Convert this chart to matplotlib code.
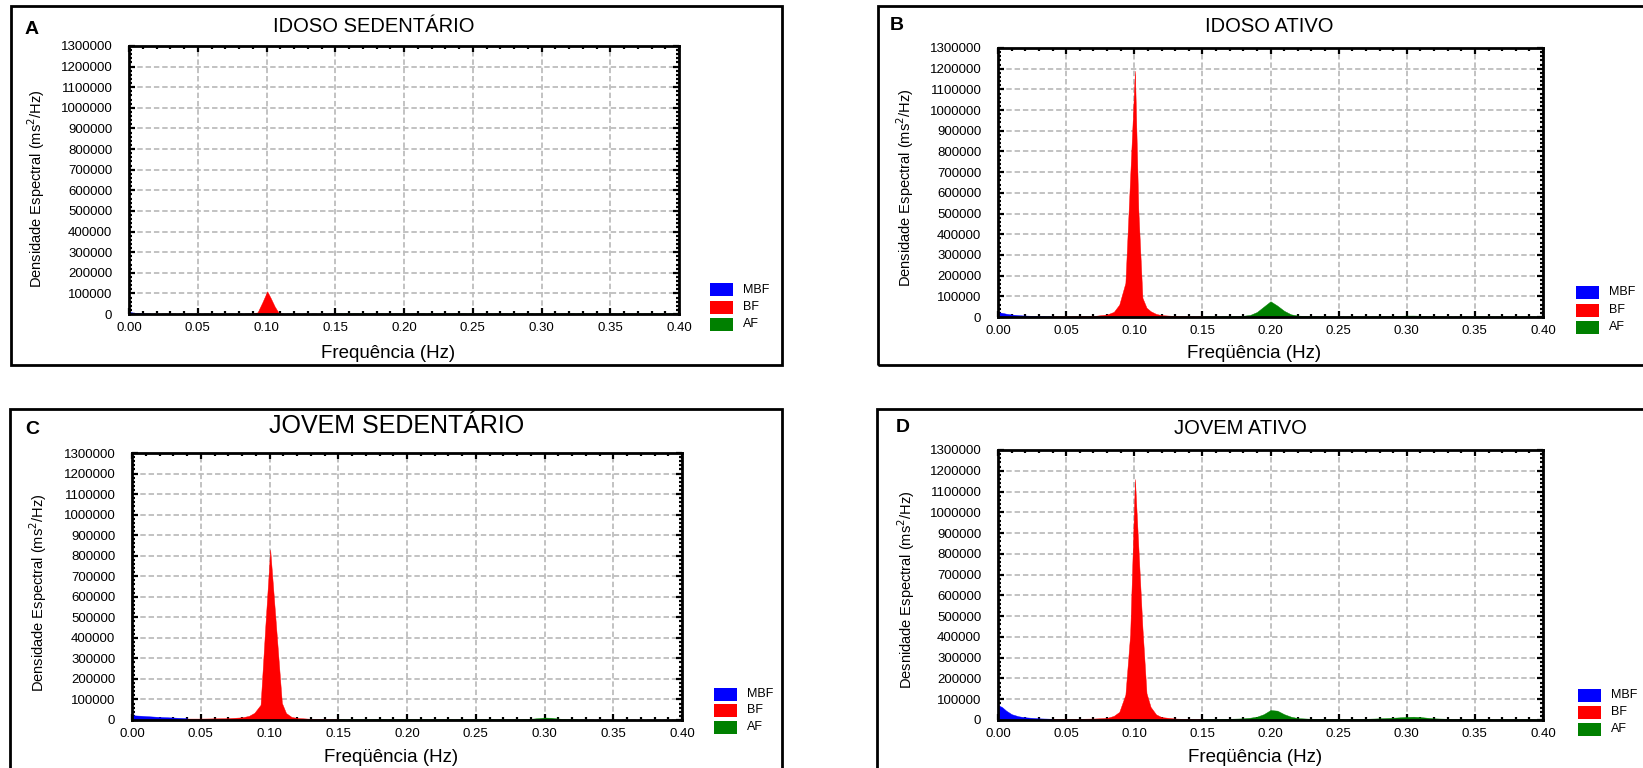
import matplotlib
matplotlib.use('Agg')
import matplotlib.pyplot as plt
from matplotlib.patches import Rectangle
from matplotlib.ticker import MultipleLocator

plt.rcParams['font.family'] = ['Liberation Sans', 'DejaVu Sans']

W, H = 1643, 768

# ---------------- data ----------------
freq_mbf = [0.0, 0.003, 0.006, 0.01, 0.015, 0.02, 0.03, 0.04]
freq_bf = [0.04, 0.05, 0.06, 0.07, 0.08, 0.085, 0.089, 0.0935, 0.097, 0.1005,
           0.103, 0.106, 0.109, 0.112, 0.116, 0.12, 0.13, 0.14, 0.15]
freq_af = [0.15, 0.16, 0.17, 0.18, 0.185, 0.19, 0.195, 0.2, 0.205, 0.21, 0.215,
           0.22, 0.23, 0.24, 0.25, 0.26, 0.27, 0.28, 0.29, 0.295, 0.3, 0.305,
           0.31, 0.315, 0.32, 0.33, 0.34, 0.35, 0.36, 0.37, 0.38, 0.39, 0.40]

# A - IDOSO SEDENTARIO
a_mbf = [10000, 7000, 5000, 3000, 2000, 1500, 1000, 1000]
a_bf = [1000, 1000, 1000, 1000, 1000, 1500, 2000, 8000, 57000, 110000,
        78000, 36000, 4000, 1500, 1000, 1000, 1000, 1000, 1000]
a_af = [1000, 1000, 1000, 1000, 1000, 1000, 1000, 1000, 1000, 1000, 1000,
        1000, 1000, 1000, 1000, 1000, 1000, 1000, 1000, 1000, 1000, 1000,
        1000, 1000, 1000, 1000, 1000, 1000, 1000, 1000, 1000, 1000, 1000]

# B - IDOSO ATIVO
b_mbf = [24000, 20000, 16000, 12000, 9000, 7000, 5000, 3000]
b_bf = [3000, 3000, 4000, 5000, 12000, 25000, 60000, 165000, 677000, 1190000,
        518000, 93000, 45000, 28000, 15000, 9000, 5000, 3000, 3000]
b_af = [3000, 3000, 4000, 6000, 10000, 24000, 50000, 76000, 55000, 30000, 13000,
        7000, 4000, 3000, 3000, 3000, 3000, 4000, 5000, 6000, 7000, 7000,
        6000, 5000, 4000, 3000, 3000, 3000, 3000, 3000, 3000, 3000, 3000]

# C - JOVEM SEDENTARIO
c_mbf = [24000, 22000, 21000, 19000, 17000, 15000, 12000, 9000]
c_bf = [7000, 7000, 8000, 9000, 13000, 20000, 35000, 74000, 462000, 830000,
        611000, 347000, 83000, 34000, 15000, 10000, 6000, 5000, 4000]
c_af = [4000, 4000, 4000, 4000, 4000, 4000, 5000, 5000, 5000, 4000, 4000,
        4000, 4000, 4000, 4000, 4000, 4000, 4000, 6000, 9000, 12000, 11000,
        7000, 5000, 4000, 2000, 1000, 1000, 1000, 1000, 1000, 1000, 1000]

# D - JOVEM ATIVO
d_mbf = [72000, 62000, 45000, 28000, 18000, 13000, 8000, 6000]
d_bf = [6000, 6000, 6000, 7000, 10000, 20000, 39000, 122000, 414000, 1160000,
        834000, 444000, 129000, 63000, 27000, 14000, 7000, 5000, 5000]
d_af = [5000, 5000, 6000, 8000, 11000, 16000, 28000, 48000, 45000, 28000, 16000,
        9000, 6000, 5000, 5000, 5000, 6000, 8000, 11000, 13000, 15000, 16000,
        14000, 11000, 8000, 6000, 5000, 5000, 4000, 4000, 4000, 4000, 4000]

band_labels = ['MBF', 'BF', 'AF']
band_colors = ['#0000ff', '#ff0000', '#008000']

x_ticks = [0.00, 0.05, 0.10, 0.15, 0.20, 0.25, 0.30, 0.35, 0.40]
x_ticklabels = ['0.00', '0.05', '0.10', '0.15', '0.20', '0.25', '0.30', '0.35', '0.40']
y_ticks = [0, 100000, 200000, 300000, 400000, 500000, 600000, 700000, 800000,
           900000, 1000000, 1100000, 1200000, 1300000]
y_ticklabels = ['0', '100000', '200000', '300000', '400000', '500000', '600000',
                '700000', '800000', '900000', '1000000', '1100000', '1200000', '1300000']

panel_letters = ['A', 'B', 'C', 'D']
panel_titles = ['IDOSO SEDENTÁRIO', 'IDOSO ATIVO', 'JOVEM SEDENTÁRIO', 'JOVEM ATIVO']
x_labels = ['Frequência (Hz)', 'Freqüência (Hz)', 'Freqüência (Hz)', 'Freqüência (Hz)']
y_labels = ['Densidade Espectral (ms$^{2}$/Hz)', 'Densidade Espectral (ms$^{2}$/Hz)',
            'Densidade Espectral (ms$^{2}$/Hz)', 'Desnidade Espectral (ms$^{2}$/Hz)']
series = [(a_mbf, a_bf, a_af), (b_mbf, b_bf, b_af), (c_mbf, c_bf, c_af), (d_mbf, d_bf, d_af)]

# ---------------- layout (pixels in the 1643x768 canvas) ----------------
axes_px = [(129, 46, 679, 314), (998, 48, 1543, 317),
           (132, 453, 682, 720), (998, 450, 1543, 720)]
frame_px = [(11, 6, 782, 365), (878, 6, 1700, 365),
            (10, 409, 782, 800), (877, 409, 1700, 800)]
title_px = [(374, 26, 14.5), (1269, 26, 14.5), (397, 426, 18), (1240, 428, 14.5)]
letter_px = [(32, 30), (897, 25), (32, 429), (903, 428)]
xlabel_px = [(388, 353), (1254, 354), (391, 757), (1255, 757)]
ylabel_px = [(36, 189), (905, 188), (38, 593), (906, 590)]
legend_px = [(710, [290, 307, 324]), (1576, [292, 310, 327]),
             (714, [694, 710, 727]), (1578, [695, 712, 729])]


def fx(x):
    return x / W


def fy(y):
    return 1 - y / H


fig = plt.figure(figsize=(W / 100, H / 100), dpi=100)

for i in range(4):
    l, t, r, b = frame_px[i]
    fig.patches.append(Rectangle((fx(l), fy(b)), fx(r) - fx(l), fy(t) - fy(b),
                                 transform=fig.transFigure, fill=False,
                                 edgecolor='black', linewidth=2.0, zorder=0))

    l, t, r, b = axes_px[i]
    ax = fig.add_axes([fx(l), fy(b), fx(r) - fx(l), fy(t) - fy(b)])
    mbf, bf, af = series[i]
    ax.fill_between(freq_mbf, mbf, 0, color=band_colors[0], linewidth=0.3, zorder=3)
    ax.fill_between(freq_bf, bf, 0, color=band_colors[1], linewidth=0.3, zorder=3)
    ax.fill_between(freq_af, af, 0, color=band_colors[2], linewidth=0.3, zorder=3)

    ax.set_xlim(0, 0.40)
    ax.set_ylim(0, 1300000)
    ax.set_xticks(x_ticks)
    ax.set_xticklabels(x_ticklabels)
    ax.set_yticks(y_ticks)
    ax.set_yticklabels(y_ticklabels)
    ax.xaxis.set_minor_locator(MultipleLocator(0.01))
    ax.yaxis.set_minor_locator(MultipleLocator(20000))
    ax.tick_params(which='both', direction='in', top=True, right=True,
                   color='black', width=1.6)
    ax.tick_params(which='major', length=4, labelsize=9.5)
    ax.tick_params(which='minor', length=2.5)
    ax.tick_params(axis='y', which='major', pad=12)
    ax.tick_params(axis='x', which='major', pad=6)
    for s in ax.spines.values():
        s.set_linewidth(2.0)
        s.set_zorder(5)
    ax.grid(True, which='major', color='#bdbdbd', linestyle=(0, (3, 1.6)),
            linewidth=1.3, zorder=1)
    ax.set_axisbelow(True)

    tx, ty, ts = title_px[i]
    fig.text(fx(tx), fy(ty), panel_titles[i], ha='center', va='center', fontsize=ts)
    lx, ly = letter_px[i]
    fig.text(fx(lx), fy(ly), panel_letters[i], ha='center', va='center',
             fontsize=14, fontweight='bold')
    xx, xy = xlabel_px[i]
    fig.text(fx(xx), fy(xy), x_labels[i], ha='center', va='center', fontsize=13.5)
    yx, yy = ylabel_px[i]
    fig.text(fx(yx), fy(yy), y_labels[i], ha='center', va='center', fontsize=10.5,
             rotation=90)

    lgx, lgys = legend_px[i]
    for lab, col, cy in zip(band_labels, band_colors, lgys):
        fig.patches.append(Rectangle((fx(lgx), fy(cy + 6.5)), 23 / W, 13 / H,
                                     transform=fig.transFigure, facecolor=col,
                                     edgecolor='none'))
        fig.text(fx(lgx + 33), fy(cy), lab, ha='left', va='center', fontsize=9)

fig.savefig('out.png', dpi=100)
